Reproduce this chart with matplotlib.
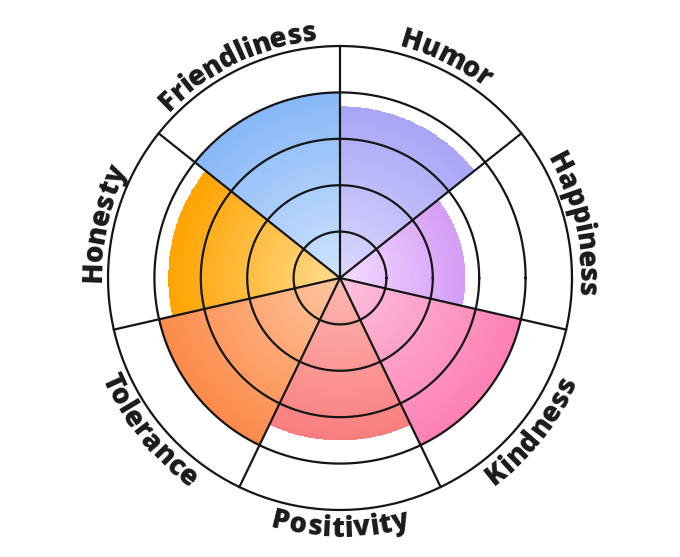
import numpy as np
import matplotlib.pyplot as plt
from matplotlib.colors import LinearSegmentedColormap

# sectors counter-clockwise, starting with the one right of 12 o'clock
categories = ['Humor', 'Friendliness', 'Honesty', 'Tolerance',
              'Positivity', 'Kindness', 'Happiness']
scores = [3.7, 4.0, 3.7, 4.0, 3.5, 4.0, 2.7]
max_score = 5

inner_colors = ['#dcd8fd', '#d0e4fd', '#ffdc90', '#fdc6a0', '#fcb8ae', '#fcc2dc', '#f4dcff']
outer_colors = ['#a8a5f7', '#86b7f7', '#ffa300', '#fd8a4a', '#fa7e80', '#fd7fb4', '#d49cf6']

plt.rcParams['font.family'] = ['Open Sans', 'DejaVu Sans']

fig = plt.figure(figsize=(6.8, 5.57), dpi=100)
ax = fig.add_axes([0.1588, 0.0844, 0.6824, 0.833], projection='polar')
ax.set_ylim(0, max_score)
ax.axis('off')

n = len(categories)
w = 2 * np.pi / n
centers = np.pi / 2 - w / 2 + np.arange(n) * w

# gradient filled sectors
for c, v, c0, c1 in zip(centers, scores, inner_colors, outer_colors):
    th = np.linspace(c - w / 2, c + w / 2, 80)
    rr = np.linspace(0, v, 100)
    T, R = np.meshgrid(th, rr)
    Z = (R[:-1, :-1] + R[1:, 1:]) / 2 / v
    cmap = LinearSegmentedColormap.from_list('g', [c0, c1])
    ax.pcolormesh(T, R, Z, cmap=cmap, vmin=0, vmax=1, shading='flat', zorder=1)

# rings and spokes
circ = np.linspace(0, 2 * np.pi, 500)
for k in range(1, max_score + 1):
    ax.plot(circ, np.full_like(circ, k), color='#151515', lw=1.6, zorder=3, clip_on=False)
for b in centers - w / 2:
    ax.plot([b, b], [0, max_score], color='#151515', lw=1.6, zorder=3, clip_on=False)

# curved labels outside the outer ring
fs = 20
weight = 800
renderer = fig.canvas.get_renderer()


def text_width(s):
    if not s:
        return 0.0
    t = fig.text(0, 0, s, fontsize=fs, fontweight=weight)
    wd = t.get_window_extent(renderer).width
    t.remove()
    return wd


px_per_unit = ax.get_window_extent(renderer).width / 2 / max_score
cap = 0.714 * fs * 100 / 72 / px_per_unit
r_mid = 5.36

for label, c in zip(categories, centers):
    total = text_width(label)
    upper = np.sin(c) > 0
    r_px = r_mid * px_per_unit
    for i, ch in enumerate(label):
        pos = (text_width(label[:i]) + text_width(label[:i + 1])) / 2 - total / 2
        if upper:
            a = c - pos / r_px
            rot = np.degrees(a) - 90
            rb = r_mid - cap / 2
        else:
            a = c + pos / r_px
            rot = np.degrees(a) + 90
            rb = r_mid + cap / 2
        ax.text(a, rb, ch, fontsize=fs, fontweight=weight, color='#1a1a1a',
                rotation=rot, rotation_mode='anchor', ha='center', va='baseline')

fig.savefig('out.png', dpi=100)
